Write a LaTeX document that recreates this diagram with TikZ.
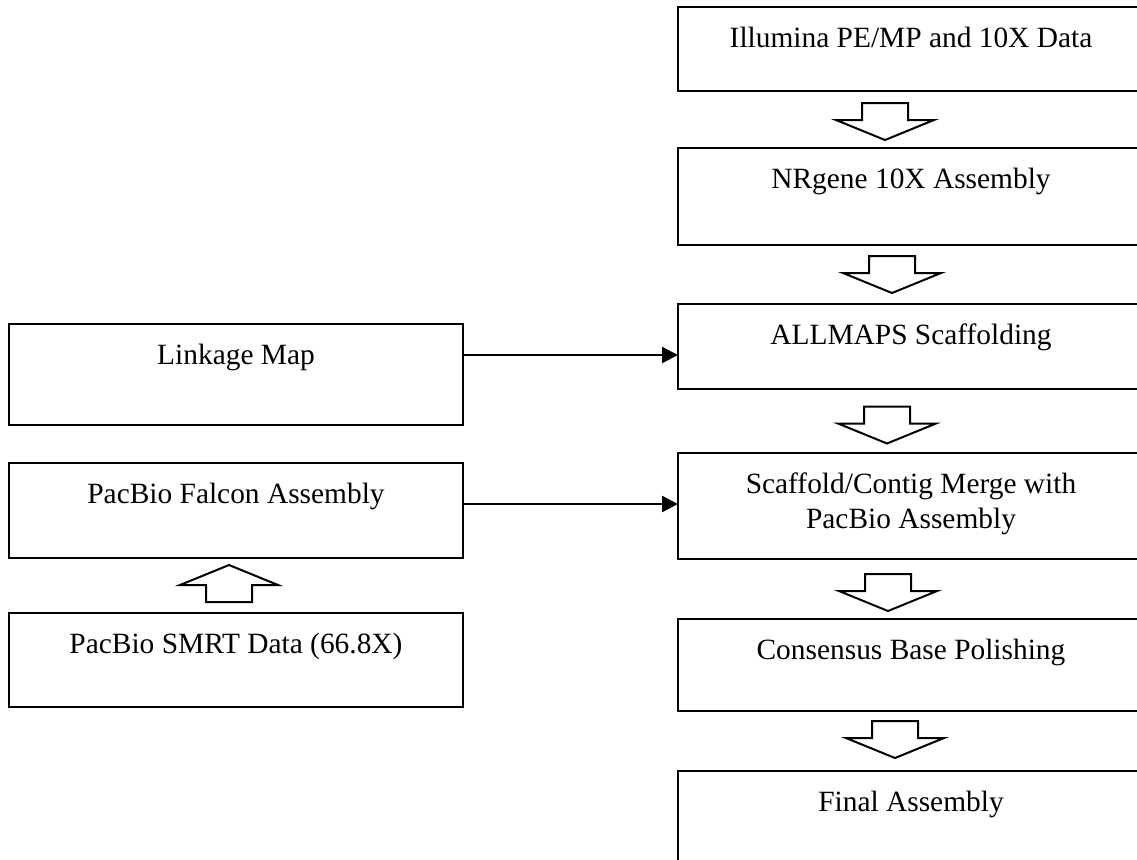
\documentclass[tikz,border=0pt]{standalone}
\usepackage{fontspec}
\setmainfont{Liberation Serif}
\usetikzlibrary{arrows.meta,calc}

\begin{document}
\begin{tikzpicture}
  [x=0.5pt,y=-0.5pt,
   box/.style={draw,rectangle,line width=1.2pt,outer sep=0pt,inner sep=0pt,anchor=north west},
   rbox/.style={box,minimum width=233pt},
   lbox/.style={box,minimum width=227pt},
   txt/.style={anchor=base,yshift=-20pt,inner sep=0pt,align=center,
     font=\fontsize{14.7}{17.5}\selectfont},
   link/.style={line width=1.2pt,-{Triangle[length=8pt,width=8pt]}},
   hollowarrow/.pic={\draw[line width=1pt,line join=miter]
     (-23,-18.5) -- (23,-18.5) -- (23,-1.5) -- (49,-1.5) -- (0,18.5)
     -- (-49,-1.5) -- (-23,-1.5) -- cycle;}]
  \useasboundingbox (0,0) rectangle (1137,859);
  \clip (0,0) rectangle (1137,859);

  % main column
  \node[rbox,minimum height=42pt,label={[txt]north:Illumina PE/MP and 10X Data}] (illumina) at (678,7) {};
  \node[rbox,minimum height=48.5pt,label={[txt]north:NRgene 10X Assembly}] (nrgene) at (678,148) {};
  \node[rbox,minimum height=42.5pt,label={[txt]north:ALLMAPS Scaffolding}] (allmaps) at (678,304) {};
  % two lines: base sits on the last one
  \node[rbox,minimum height=53pt,label={[txt,yshift=-17.5pt]north:Scaffold/Contig Merge with\\PacBio Assembly}] (merge) at (678,453) {};
  \node[rbox,minimum height=46pt,label={[txt]north:Consensus Base Polishing}] (polish) at (678,619) {};
  \node[rbox,minimum height=46pt,label={[txt]north:Final Assembly}] (final) at (678,771) {};

  % side inputs
  \node[lbox,minimum height=50.5pt,label={[txt]north:Linkage Map}] (linkage) at (9,324) {};
  \node[lbox,minimum height=47.5pt,label={[txt]north:PacBio Falcon Assembly}] (falcon) at (9,463) {};
  \node[lbox,minimum height=47pt,label={[txt]north:PacBio SMRT Data (66.8X)}] (smrt) at (9,613) {};

  \foreach \a/\b/\dx/\dy in {illumina/nrgene/-26/2,nrgene/allmaps/-19/0,allmaps/merge/-24/4,merge/polish/-23/3.5,polish/final/-16/-1.5}
    \pic at ($(\a.south)!.5!(\b.north)+(\dx,\dy)$) {hollowarrow};
  \pic[rotate=180] at ($(smrt.north)!.5!(falcon.south)+(-7,-2)$) {hollowarrow};

  \coordinate (lk) at ($(linkage.east)+(0,-19.5)$);
  \coordinate (fc) at ($(falcon.east)+(0,-6.5)$);
  \draw[link] (lk) -- (lk -| allmaps.west);
  \draw[link] (fc) -- (fc -| merge.west);

\end{tikzpicture}
\end{document}
